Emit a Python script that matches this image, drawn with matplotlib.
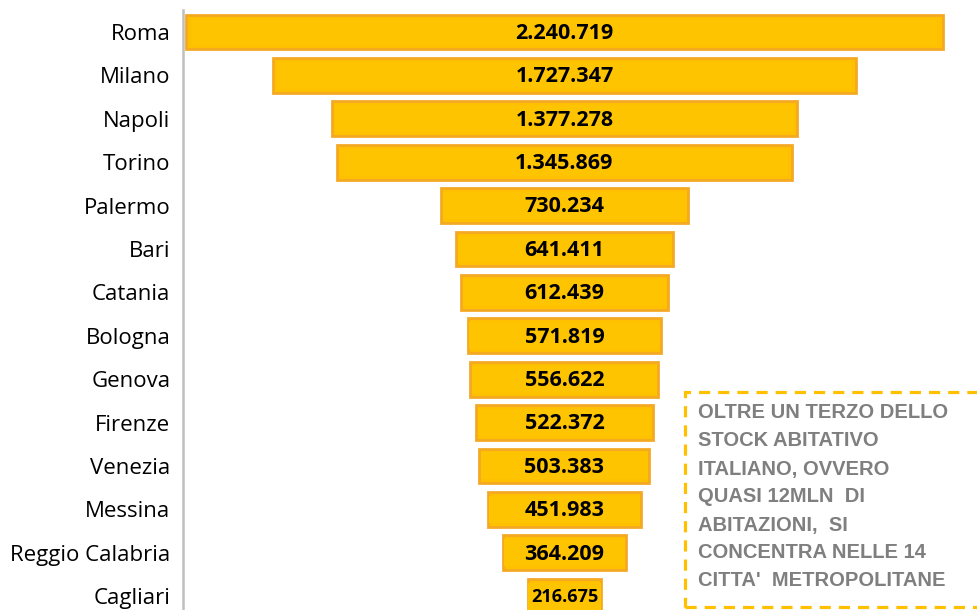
import matplotlib.pyplot as plt
from matplotlib.patches import Rectangle
import numpy as np

# Dati
citta = ["Roma", "Milano", "Napoli", "Torino", "Palermo", "Bari", "Catania",
         "Bologna", "Genova", "Firenze", "Venezia", "Messina", "Reggio Calabria", "Cagliari"]
abitazioni = [2240719, 1727347, 1377278, 1345869, 730234, 641411, 612439,
              571819, 556622, 522372, 503383, 451983, 364209, 216675]
etichette = ["2.240.719", "1.727.347", "1.377.278", "1.345.869", "730.234", "641.411", "612.439",
             "571.819", "556.622", "522.372", "503.383", "451.983", "364.209", "216.675"]
nota = ["OLTRE UN TERZO DELLO", "STOCK ABITATIVO", "ITALIANO, OVVERO",
        "QUASI 12MLN  DI", "ABITAZIONI,  SI", "CONCENTRA NELLE 14",
        "CITTA'  METROPOLITANE"]

W, H = 978, 610
fig = plt.figure(figsize=(W / 100, H / 100), dpi=100)
ax = fig.add_axes([183 / W, 0, 1 - 183 / W, 600 / H])

y = np.arange(len(citta))
vals = np.array(abitazioni)
# funnel: barre centrate sullo zero
ax.barh(y, vals, left=-vals / 2, height=0.8, color="#FFC000",
        edgecolor="#F4A925", linewidth=2.0)
ax.barh(y, vals * 0.985, left=-vals * 0.985 / 2, height=0.62, color="#FFC400",
        linewidth=0)

for i, (v, lab) in enumerate(zip(vals, etichette)):
    fs = 13 if i == len(vals) - 1 else 15.5
    ax.text(0, i + 0.03, lab, ha="center", va="center", fontsize=fs,
            fontweight="bold", family="Open Sans", color="black")

ax.set_xlim(-1129000, 1224000)
ax.set_ylim(13.32, -0.507)
ax.set_yticks(y)
ax.set_yticklabels(citta, fontsize=16, family="Open Sans")
ax.tick_params(axis="y", length=0, pad=9)
ax.set_xticks([])
for s in ["top", "right", "bottom"]:
    ax.spines[s].set_visible(False)
ax.spines["left"].set_color("#BFBFBF")
ax.spines["left"].set_linewidth(1.8)

# riquadro tratteggiato
rect = Rectangle((685 / W, 3 / H), 320 / W, 215 / H, transform=fig.transFigure,
                 fill=False, edgecolor="#FFC000", linewidth=2.3,
                 linestyle=(0, (3.5, 2.5)), clip_on=False)
fig.patches.append(rect)
for k, riga in enumerate(nota):
    fig.text(698 / W, 1 - (413 + k * 28) / H, riga, ha="left", va="center",
             fontsize=14.5, fontweight="bold", family="Liberation Sans", color="#7F7F7F")

fig.savefig("out.png", dpi=100)
